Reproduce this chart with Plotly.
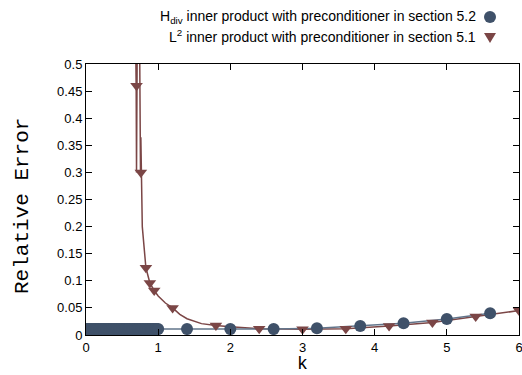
import plotly.graph_objects as go

# H_div inner product (section 5.2) - blue circles
hdiv_k = [0.0, 0.02, 0.04, 0.06, 0.08, 0.1, 0.12, 0.14, 0.16, 0.18, 0.2, 0.22, 0.24, 0.26, 0.28,
          0.3, 0.32, 0.34, 0.36, 0.38, 0.4, 0.42, 0.44, 0.46, 0.48, 0.5, 0.52, 0.54, 0.56, 0.58,
          0.6, 0.62, 0.64, 0.66, 0.68, 0.7, 0.72, 0.74, 0.76, 0.78, 0.8, 0.82, 0.84, 0.86, 0.88,
          0.9, 0.92, 0.94, 0.96, 0.98, 1.0,
          1.4, 2.0, 2.6, 3.2, 3.8, 4.4, 5.0, 5.6]
hdiv_err = [0.011] * 51 + [0.011, 0.011, 0.011, 0.0125, 0.0167, 0.0216, 0.0296, 0.040]

# L2 inner product (section 5.1) - line readings
l2_line_k = [0.60, 0.66, 0.695, 0.70, 0.725, 0.755, 0.76, 0.78, 0.83, 0.885, 0.945, 1.0, 1.1,
             1.2, 1.3, 1.4, 1.5, 1.6, 1.8, 2.0, 2.4, 3.0, 3.6, 4.2, 4.8, 5.4, 6.0]
l2_line_err = [1.5, 0.9, 0.46, 0.30, 0.9, 0.30, 0.365, 0.20, 0.124, 0.096, 0.082, 0.072, 0.059,
               0.050, 0.038, 0.030, 0.025, 0.021, 0.0175, 0.015, 0.0115, 0.0105, 0.0115, 0.0165,
               0.023, 0.034, 0.045]
# L2 triangle markers
l2_k = [0.70, 0.76, 0.83, 0.885, 0.945, 1.2, 1.8, 2.4, 3.0, 3.6, 4.2, 4.8, 5.4, 6.0]
l2_err = [0.46, 0.30, 0.124, 0.096, 0.082, 0.050, 0.0175, 0.0115, 0.0105, 0.0115, 0.0165, 0.023, 0.034, 0.045]

x_ticks = [0, 1, 2, 3, 4, 5, 6]
y_ticks = [0, 0.05, 0.1, 0.15, 0.2, 0.25, 0.3, 0.35, 0.4, 0.45, 0.5]
y_ticklabels = ["0", "0.05", "0.1", "0.15", "0.2", "0.25", "0.3", "0.35", "0.4", "0.45", "0.5"]

blue = "#3f5169"
blue_line = "#62758b"
red = "#7b4646"

fig = go.Figure()
fig.add_trace(go.Scatter(x=l2_line_k, y=l2_line_err, mode="lines",
                         line=dict(color=red, width=1.5), showlegend=False))
fig.add_trace(go.Scatter(x=hdiv_k, y=hdiv_err, mode="lines+markers",
                         line=dict(color=blue_line, width=1.5),
                         marker=dict(color=blue, size=12, symbol="circle"), showlegend=False))
fig.add_trace(go.Scatter(x=l2_k, y=l2_err, mode="markers",
                         marker=dict(color=red, size=11, symbol="triangle-down"), showlegend=False))

W, H = 522, 375
PL, PR, PT, PB = 86, 519, 64, 335
L, R, T, B = PL, W - PR, PT, H - PB
pw, ph = PR - PL, PB - PT

def px(xp):
    return (xp - PL) / pw

def py(yp):
    return (PB - yp) / ph

font_sans = "Liberation Sans, Arial, sans-serif"
font_mono = "Liberation Mono, Courier New, monospace"

annotations = [
    dict(text="H<sub>div</sub> inner product with preconditioner in section 5.2",
         x=px(478), y=py(17), xref="paper", yref="paper", xanchor="right", yanchor="middle",
         showarrow=False, font=dict(family=font_sans, size=14, color="black")),
    dict(text="L<sup>2</sup> inner product with preconditioner in section 5.1",
         x=px(478), y=py(36), xref="paper", yref="paper", xanchor="right", yanchor="middle",
         showarrow=False, font=dict(family=font_sans, size=14, color="black")),
    dict(text="Relative Error", textangle=-90,
         x=px(22), y=py(206), xref="paper", yref="paper", xanchor="center", yanchor="middle",
         showarrow=False, font=dict(family=font_mono, size=21, color="black")),
    dict(text="k",
         x=px(302), y=py(364), xref="paper", yref="paper", xanchor="center", yanchor="middle",
         showarrow=False, font=dict(family=font_mono, size=18, color="black")),
]
shapes = [
    dict(type="circle", xref="paper", yref="paper", xsizemode="pixel", ysizemode="pixel",
         xanchor=px(490), yanchor=py(17), x0=-6, x1=6, y0=-6, y1=6,
         fillcolor=blue, line=dict(width=0)),
    dict(type="path", xref="paper", yref="paper", xsizemode="pixel", ysizemode="pixel",
         xanchor=px(490), yanchor=py(37), path="M -6 4 L 6 4 L 0 -6 Z",
         fillcolor=red, line=dict(width=0)),
]

fig.update_layout(
    width=W, height=H,
    margin=dict(l=L, r=R, t=T, b=B, autoexpand=False),
    paper_bgcolor="white", plot_bgcolor="white",
    showlegend=False,
    annotations=annotations,
    shapes=shapes,
    font=dict(family=font_sans, size=13, color="black"),
)
fig.update_xaxes(range=[0, 6], tickvals=x_ticks, ticktext=[str(v) for v in x_ticks],
                 ticks="inside", ticklen=6, tickcolor="black", showline=True, linecolor="black",
                 linewidth=1, mirror="ticks", showgrid=False, zeroline=False,
                 ticklabeloverflow="allow", automargin=False,
                 tickfont=dict(family=font_sans, size=13))
fig.update_yaxes(range=[0, 0.5], tickvals=y_ticks, ticktext=y_ticklabels,
                 ticks="inside", ticklen=6, tickcolor="black", showline=True, linecolor="black",
                 linewidth=1, mirror="ticks", showgrid=False, zeroline=False,
                 automargin=False,
                 tickfont=dict(family=font_sans, size=13))

fig.write_html("out.html",
               config={"displayModeBar": False},
               post_script="document.body.style.margin='0';document.body.style.overflow='hidden';")
